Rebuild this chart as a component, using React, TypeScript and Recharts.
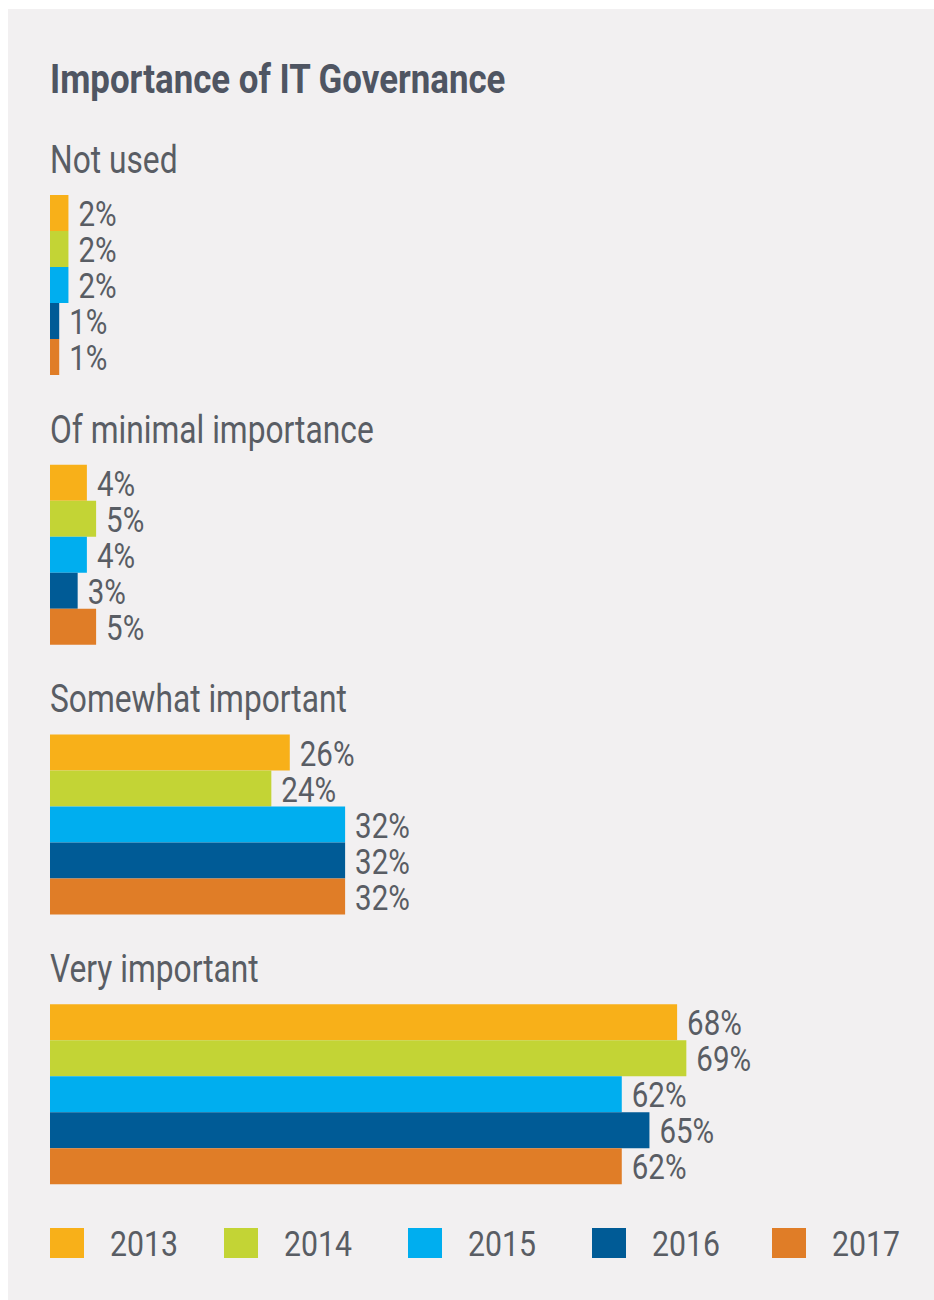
import React from 'react';
import { BarChart, Bar, XAxis, YAxis, LabelList, Legend } from 'recharts';

const categories = ['Not used', 'Of minimal importance', 'Somewhat important', 'Very important'];
const years = ['2013', '2014', '2015', '2016', '2017'];
const values2013 = [2, 4, 26, 68];
const values2014 = [2, 5, 24, 69];
const values2015 = [2, 4, 32, 62];
const values2016 = [1, 3, 32, 65];
const values2017 = [1, 5, 32, 62];

const colors = ['#f8b019', '#c3d435', '#00aeef', '#005b96', '#e07d27'];
const FONT = 'Roboto, sans-serif';
const TEXT = '#595d64';

const data = categories.map((name, i) => ({
  name,
  y2013: values2013[i],
  y2014: values2014[i],
  y2015: values2015[i],
  y2016: values2016[i],
  y2017: values2017[i],
}));

// the original uses a condensed face, so squeeze Roboto sideways
function NarrowText({ x, y, size, weight, fill, squeeze = 0.82, children }: any) {
  return (
    <text
      transform={`translate(${x},${y}) scale(${squeeze},1)`}
      fill={fill}
      fontSize={size}
      fontWeight={weight}
      fontFamily={FONT}
    >
      {children}
    </text>
  );
}

function renderGroupTitle(props: any) {
  const { y, payload } = props;
  return (
    <NarrowText x={42} y={y - 113} size={38} squeeze={0.835} fill={TEXT}>
      {payload.value}
    </NarrowText>
  );
}

function renderValue(props: any) {
  const { x, y, width, height, value } = props;
  return (
    <NarrowText x={x + width + 10} y={y + height / 2 + 13} size={36} fill={TEXT}>
      {`${value}%`}
    </NarrowText>
  );
}

const legendLeft = [42, 216, 400, 584, 764];

function YearLegend() {
  return (
    <svg width={926} height={30} style={{ display: 'block', overflow: 'visible' }}>
      {years.map((yr, i) => (
        <g key={yr}>
          <rect x={legendLeft[i]} y={0} width={34} height={30} fill={colors[i]} />
          <NarrowText x={legendLeft[i] + 60} y={28} size={36} squeeze={0.84} fill={TEXT}>
            {yr}
          </NarrowText>
        </g>
      ))}
    </svg>
  );
}

export default function App() {
  return (
    <div style={{ width: 934, height: 1300, background: '#ffffff', position: 'relative', overflow: 'hidden' }}>
      <style>{`body{margin:0;overflow:hidden;background:#fff}`}</style>
      <div style={{ position: 'absolute', left: 8, top: 9, width: 926, height: 1291, background: '#f2f0f1' }}>
        <BarChart
          width={926}
          height={1291}
          data={data}
          layout="vertical"
          margin={{ top: 142, right: 54, bottom: 40, left: 41 }}
          barGap={0}
          barCategoryGap={44}
        >
          <XAxis type="number" domain={[0, 90]} hide />
          <YAxis
            type="category"
            dataKey="name"
            width={1}
            axisLine={false}
            tickLine={false}
            tick={renderGroupTitle}
            interval={0}
          />
          <Legend
            verticalAlign="bottom"
            content={<YearLegend />}
            wrapperStyle={{ left: 0, width: 926, bottom: 42 }}
          />
          {years.map((yr, i) => (
            <Bar key={yr} dataKey={`y${yr}`} name={yr} fill={colors[i]} isAnimationActive={false}>
              <LabelList dataKey={`y${yr}`} content={renderValue} />
            </Bar>
          ))}
        </BarChart>
        <svg width={926} height={110} style={{ position: 'absolute', left: 0, top: 0 }}>
          <NarrowText x={42} y={84} size={41} weight={700} squeeze={0.85} fill="#4f5562">
            Importance of IT Governance
          </NarrowText>
        </svg>
      </div>
    </div>
  );
}
